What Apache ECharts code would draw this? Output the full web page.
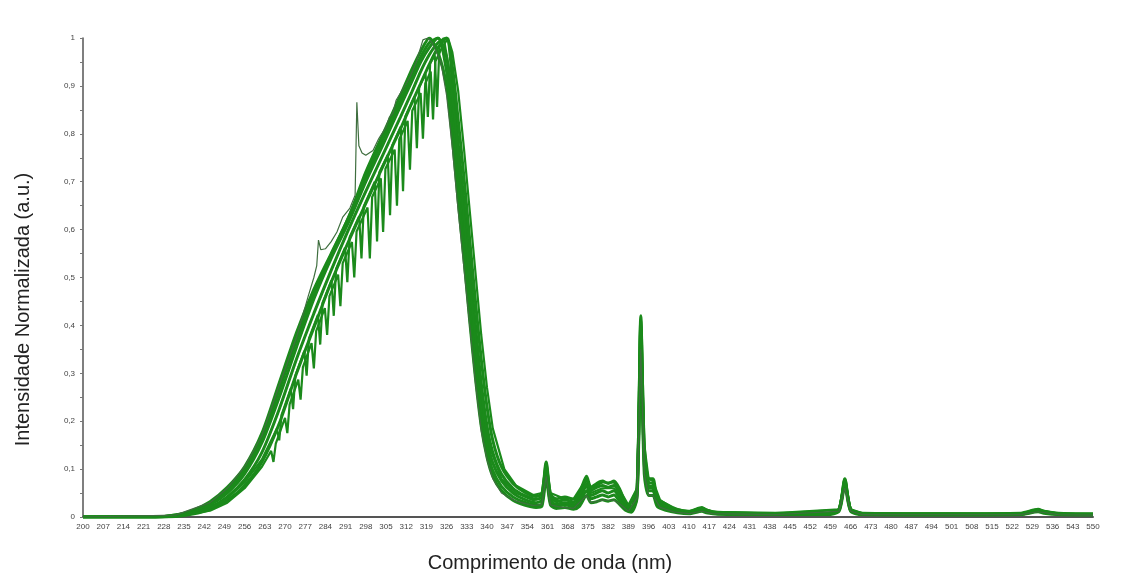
<!DOCTYPE html>
<html>
<head>
<meta charset="utf-8">
<title>Intensidade Normalizada</title>
<script src="https://cdn.jsdelivr.net/npm/echarts@6.0.0/dist/echarts.min.js"></script>
<style>
  html, body { margin: 0; padding: 0; background: #fff; }
  #main { width: 1124px; height: 576px; }
</style>
</head>
<body>
<div id="main"></div>
<script>
// rotulos do eixo x (nm)
var xTicks = [200, 207, 214, 221, 228, 235, 242, 249, 256, 263, 270, 277, 284, 291, 298, 305, 312,
  319, 326, 333, 340, 347, 354, 361, 368, 375, 382, 389, 396, 403, 410, 417, 424, 431, 438,
  445, 452, 459, 466, 473, 480, 487, 494, 501, 508, 515, 522, 529, 536, 543, 550];

// comprimentos de onda comuns das curvas suaves
var wl = [200, 225, 232, 238, 244, 250, 256, 262, 268, 274,
  280, 286, 292, 298, 304, 310, 314, 317, 320, 323,
  326, 328, 330, 332, 334, 336, 338, 340, 342, 345,
  349, 353, 357, 359, 360.5, 362, 364, 367, 370, 372,
  374.5, 376, 378, 380, 382, 384, 386, 388, 390, 392,
  393.3, 394.5, 396, 397.5, 399, 402, 406, 410, 414.5, 416,
  420, 440, 458, 462, 464, 466, 470, 500, 525, 531,
  533, 538, 550];

var serieA = [0, 0, 0.004, 0.014, 0.032, 0.062, 0.105, 0.175, 0.28, 0.385,
  0.475, 0.55, 0.625, 0.72, 0.80, 0.88, 0.935, 0.972, 1.0, 0.97,
  0.90, 0.79, 0.66, 0.54, 0.41, 0.29, 0.19, 0.125, 0.085, 0.055,
  0.035, 0.025, 0.02, 0.022, 0.08, 0.025, 0.018, 0.02, 0.016, 0.022,
  0.045, 0.03, 0.032, 0.036, 0.033, 0.036, 0.026, 0.014, 0.01, 0.04,
  0.36, 0.09, 0.045, 0.045, 0.022, 0.014, 0.009, 0.007, 0.012, 0.009,
  0.006, 0.005, 0.005, 0.012, 0.065, 0.012, 0.005, 0.004, 0.005, 0.011,
  0.008, 0.005, 0.004];
var serieB = [0, 0, 0.004, 0.012, 0.028, 0.056, 0.098, 0.165, 0.265, 0.37,
  0.465, 0.547, 0.625, 0.71, 0.79, 0.868, 0.922, 0.96, 0.99, 1.0,
  0.93, 0.82, 0.69, 0.57, 0.44, 0.315, 0.21, 0.14, 0.097, 0.064,
  0.042, 0.031, 0.025, 0.028, 0.095, 0.03, 0.022, 0.026, 0.021, 0.028,
  0.055, 0.038, 0.042, 0.046, 0.042, 0.046, 0.033, 0.018, 0.013, 0.045,
  0.39, 0.11, 0.055, 0.055, 0.027, 0.018, 0.011, 0.009, 0.015, 0.011,
  0.007, 0.006, 0.006, 0.014, 0.072, 0.014, 0.006, 0.005, 0.006, 0.013,
  0.01, 0.006, 0.005];
var serieC = [0, 0, 0.003, 0.01, 0.025, 0.05, 0.09, 0.155, 0.25, 0.355,
  0.455, 0.54, 0.615, 0.70, 0.778, 0.858, 0.91, 0.95, 0.98, 1.0,
  0.96, 0.86, 0.73, 0.61, 0.48, 0.35, 0.24, 0.16, 0.113, 0.076,
  0.05, 0.037, 0.03, 0.035, 0.10, 0.035, 0.026, 0.03, 0.025, 0.035,
  0.065, 0.045, 0.05, 0.055, 0.05, 0.055, 0.04, 0.021, 0.016, 0.05,
  0.40, 0.12, 0.062, 0.06, 0.03, 0.02, 0.012, 0.01, 0.016, 0.012,
  0.008, 0.006, 0.006, 0.015, 0.075, 0.015, 0.006, 0.005, 0.006, 0.013,
  0.01, 0.006, 0.005];
var serieD = [0, 0, 0.002, 0.008, 0.02, 0.042, 0.078, 0.135, 0.225, 0.33,
  0.425, 0.515, 0.60, 0.68, 0.757, 0.835, 0.888, 0.93, 0.965, 0.99,
  1.0, 0.91, 0.78, 0.66, 0.53, 0.40, 0.28, 0.19, 0.135, 0.09,
  0.06, 0.045, 0.037, 0.042, 0.11, 0.042, 0.032, 0.036, 0.031, 0.042,
  0.078, 0.055, 0.062, 0.066, 0.062, 0.066, 0.05, 0.026, 0.02, 0.058,
  0.42, 0.14, 0.072, 0.07, 0.036, 0.024, 0.014, 0.011, 0.018, 0.014,
  0.009, 0.007, 0.007, 0.016, 0.08, 0.016, 0.007, 0.006, 0.007, 0.015,
  0.011, 0.007, 0.006];
var serieE = [0, 0, 0.001, 0.006, 0.016, 0.035, 0.066, 0.115, 0.195, 0.30,
  0.395, 0.49, 0.575, 0.655, 0.733, 0.81, 0.865, 0.905, 0.945, 0.98,
  1.0, 0.94, 0.83, 0.71, 0.58, 0.45, 0.33, 0.23, 0.16, 0.105,
  0.07, 0.052, 0.043, 0.048, 0.115, 0.048, 0.038, 0.042, 0.037, 0.05,
  0.085, 0.062, 0.07, 0.075, 0.07, 0.075, 0.058, 0.03, 0.023, 0.062,
  0.41, 0.15, 0.08, 0.08, 0.04, 0.027, 0.016, 0.012, 0.02, 0.015,
  0.01, 0.008, 0.008, 0.017, 0.078, 0.017, 0.008, 0.007, 0.008, 0.016,
  0.012, 0.008, 0.007];

// curvas com ruido (quedas estreitas na subida)
var wlRuido1 = [200, 232, 244, 250, 256, 262, 265.2, 266, 266.8, 270, 270.8, 271.6, 274.6, 275.4, 276.2,
  279.2, 280, 280.8, 283.8, 284.6, 285.4, 288.4, 289.2, 290, 293.2, 294, 294.8, 298.6, 299.4, 300.2,
  303.2, 304, 304.8, 308, 308.8, 309.6, 312.5, 313.3, 314.1, 317, 317.8, 318.6, 320.5, 321.3, 322.1,
  324, 326.5, 328, 330, 332, 334, 336, 338, 340, 342, 346, 350, 356, 359, 360.5, 362, 366, 370,
  374.5, 376, 380, 384, 386, 389, 392, 393.3, 394.5, 396, 397.5, 400, 405, 410, 414.5, 418,
  440, 462, 464, 466, 470, 525, 531, 538, 550];
var serieRuido1 = [0, 0.001, 0.013, 0.03, 0.06, 0.105, 0.138, 0.115, 0.153, 0.207, 0.175, 0.235, 0.287, 0.245, 0.313,
  0.363, 0.31, 0.388, 0.436, 0.38, 0.461, 0.506, 0.44, 0.53, 0.574, 0.50, 0.596, 0.646, 0.54, 0.668,
  0.707, 0.595, 0.727, 0.767, 0.65, 0.788, 0.827, 0.725, 0.848, 0.885, 0.79, 0.905, 0.93, 0.83, 0.951,
  0.975, 1.0, 0.97, 0.89, 0.77, 0.64, 0.51, 0.38, 0.27, 0.185, 0.10, 0.066, 0.046, 0.05, 0.115, 0.05, 0.04, 0.038,
  0.08, 0.06, 0.072, 0.072, 0.056, 0.025, 0.06, 0.41, 0.15, 0.08, 0.075, 0.035, 0.017, 0.012, 0.019, 0.011,
  0.008, 0.016, 0.08, 0.016, 0.008, 0.007, 0.015, 0.007, 0.006];

var wlRuido2 = [200, 232, 244, 250, 256, 262, 267.2, 268, 268.8, 272, 272.8, 273.6, 276.7, 277.5, 278.3,
  281.4, 282.2, 283, 286.1, 286.9, 287.7, 290.8, 291.6, 292.4, 295.7, 296.5, 297.3, 301.1, 301.9, 302.7,
  305.6, 306.4, 307.2, 310.1, 310.9, 311.7, 314.9, 315.7, 316.5, 318.7, 319.5, 320.3, 321.9, 322.7,
  323.5, 325, 327, 329, 331, 333, 335, 337, 339, 341, 345, 350, 356, 359, 360.5, 362, 366, 370,
  374.5, 376, 380, 384, 386, 389, 392, 393.3, 394.5, 396, 397.5, 400, 405, 410, 414.5, 418,
  440, 462, 464, 466, 470, 525, 531, 538, 550];
var serieRuido2 = [0, 0.002, 0.018, 0.04, 0.072, 0.12, 0.185, 0.16, 0.213, 0.268, 0.225, 0.295, 0.347, 0.295, 0.373,
  0.422, 0.36, 0.447, 0.494, 0.42, 0.518, 0.562, 0.49, 0.584, 0.628, 0.54, 0.649, 0.70, 0.575, 0.72,
  0.756, 0.63, 0.776, 0.815, 0.68, 0.836, 0.878, 0.77, 0.897, 0.926, 0.835, 0.947, 0.964, 0.856,
  0.98, 1.0, 0.93, 0.82, 0.69, 0.56, 0.43, 0.31, 0.21, 0.145, 0.08, 0.05, 0.035, 0.04, 0.105, 0.04, 0.03, 0.028,
  0.07, 0.05, 0.06, 0.06, 0.045, 0.02, 0.05, 0.40, 0.13, 0.065, 0.065, 0.03, 0.014, 0.01, 0.017, 0.01,
  0.007, 0.015, 0.075, 0.015, 0.007, 0.006, 0.014, 0.006, 0.005];

// curva com pico em ~295 nm
var wlPico = [200, 232, 244, 250, 256, 262, 268, 274, 278, 280,
  281, 281.6, 282.4, 284, 286, 288, 290, 292.5, 294.3, 294.9,
  295.6, 296.7, 298, 300.5, 302.5, 305, 306.2, 307.4, 308.5, 311,
  313.3, 315.5, 317.8, 319.5, 321, 324, 326, 328, 330, 332,
  334, 336, 338, 340, 342, 345, 350, 356, 359, 360.5,
  362, 366, 370, 374.5, 376, 380, 384, 386, 389, 392,
  393.3, 394.5, 396, 397.5, 400, 405, 410, 414.5, 418, 440,
  462, 464, 466, 470, 525, 531, 538, 550];
var seriePico = [0, 0.004, 0.03, 0.06, 0.105, 0.17, 0.275, 0.375, 0.46, 0.50,
  0.525, 0.578, 0.558, 0.56, 0.575, 0.595, 0.626, 0.645, 0.672, 0.866,
  0.775, 0.76, 0.755, 0.765, 0.79, 0.814, 0.835, 0.843, 0.87, 0.895,
  0.918, 0.95, 0.996, 1.0, 0.99, 0.95, 0.88, 0.77, 0.64, 0.52,
  0.40, 0.28, 0.18, 0.12, 0.08, 0.05, 0.033, 0.024, 0.026, 0.085,
  0.025, 0.02, 0.018, 0.045, 0.03, 0.035, 0.035, 0.027, 0.012, 0.04,
  0.35, 0.09, 0.045, 0.045, 0.02, 0.01, 0.007, 0.012, 0.007, 0.005,
  0.012, 0.06, 0.012, 0.005, 0.005, 0.011, 0.005, 0.004];

var page = {
  init: function() {
    page.queryEcharts();
  },
  toPairs: function(xs, ys) {
    var out = [];
    for (var i = 0; i < xs.length; i++) {
      out.push([xs[i], ys[i]]);
    }
    return out;
  },
  line: function(xs, ys, color, width, smooth) {
    return {
      type: "line",
      data: page.toPairs(xs, ys),
      showSymbol: false,
      symbol: "none",
      smooth: smooth,
      lineStyle: { color: color, width: width },
      emphasis: { disabled: true }
    };
  },
  queryEcharts: function() {
    var myChart = echarts.init(document.getElementById("main"));
    var verde = "#1b8a1b";
    var option = {
      animation: false,
      backgroundColor: "#fff",
      grid: {
        left: 83,
        right: 31,
        top: 38,
        bottom: 59,
        containLabel: false,
        outerBoundsMode: "none"
      },
      xAxis: {
        type: "value",
        min: 200,
        max: 550,
        name: "Comprimento de onda (nm)",
        nameLocation: "middle",
        nameGap: 36,
        nameTextStyle: {
          fontFamily: "Liberation Sans",
          fontSize: 20,
          color: "#222",
          padding: [0, 76, 0, 0]
        },
        axisLine: { show: true, lineStyle: { color: "#555", width: 2 } },
        axisTick: { show: false },
        splitLine: { show: false },
        axisLabel: {
          customValues: xTicks,
          fontFamily: "Liberation Sans",
          fontSize: 8,
          color: "#444",
          margin: 6
        }
      },
      yAxis: {
        type: "value",
        min: 0,
        max: 1,
        interval: 0.1,
        name: "Intensidade Normalizada (a.u.)",
        nameLocation: "middle",
        nameGap: 50,
        nameTextStyle: {
          fontFamily: "Liberation Sans",
          fontSize: 20,
          color: "#222",
          padding: [0, 64, 0, 0]
        },
        axisLine: { show: true, lineStyle: { color: "#555", width: 1.5 } },
        axisTick: { show: true, length: 3, lineStyle: { color: "#777" } },
        minorTick: { show: true, splitNumber: 2, length: 3, lineStyle: { color: "#777" } },
        splitLine: { show: false },
        axisLabel: {
          fontFamily: "Liberation Sans",
          fontSize: 8,
          color: "#444",
          margin: 8,
          formatter: function(v) {
            return String(v).replace(".", ",");
          }
        }
      },
      series: [
        page.line(wl, serieA, verde, 3, 0.25),
        page.line(wl, serieB, verde, 3, 0.25),
        page.line(wl, serieC, verde, 3, 0.25),
        page.line(wl, serieD, verde, 3, 0.25),
        page.line(wl, serieE, verde, 3, 0.25),
        page.line(wlRuido2, serieRuido2, verde, 2.2, false),
        page.line(wlRuido1, serieRuido1, verde, 2.2, false),
        page.line(wlPico, seriePico, "#3f6e3f", 1.2, false)
      ]
    };
    myChart.setOption(option);
  }
};
page.init();
</script>
</body>
</html>
